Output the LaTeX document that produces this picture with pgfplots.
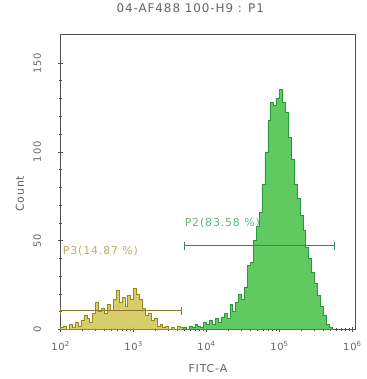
\documentclass[border=0pt]{standalone}
\usepackage{pgfplots}
\pgfplotsset{compat=1.18}
\usepackage{fontspec}
\setmainfont{DejaVu Sans}[LetterSpace=8]
\definecolor{greenfill}{RGB}{96,202,96}
\definecolor{greenline}{RGB}{40,150,60}
\definecolor{olivefill}{RGB}{208,198,80}
\definecolor{oliveline}{RGB}{150,135,30}
\definecolor{pthreebar}{RGB}{140,118,40}
\definecolor{pthreetext}{RGB}{185,175,90}
\definecolor{ptwobar}{RGB}{50,140,90}
\definecolor{ptwotext}{RGB}{90,185,130}
\definecolor{axisgray}{RGB}{80,80,80}
\definecolor{textgray}{RGB}{100,100,100}
\begin{document}
\begin{tikzpicture}
\begin{axis}[
  scale only axis, width=297pt, height=297pt,
  xmin=2, xmax=6.04, ymin=0, ymax=166,
  xtick={2,3,4,5,6},
  xticklabels={10\textsuperscript{2},10\textsuperscript{3},10\textsuperscript{4},10\textsuperscript{5},10\textsuperscript{6}},
  minor xtick={2.301,2.477,2.602,2.699,2.778,2.845,2.903,2.954,3.301,3.477,3.602,3.699,3.778,3.845,3.903,3.954,4.301,4.477,4.602,4.699,4.778,4.845,4.903,4.954,5.301,5.477,5.602,5.699,5.778,5.845,5.903,5.954},
  ytick={0,50,100,150},
  minor y tick num=4,
  tick pos=left, tick align=center,
  major tick length=5pt, minor tick length=3pt,
  axis line style={axisgray, line width=0.9pt},
  every tick/.style={axisgray, line width=0.6pt},
  tick label style={font=\fontsize{10}{11}\selectfont, text=textgray},
  yticklabel style={rotate=90, anchor=center, yshift=21pt},
  /pgf/number format/assume math mode=true,
  xticklabel style={anchor=center, yshift=-14pt},
  xlabel={FITC-A}, ylabel={Count},
  label style={font=\fontsize{11}{13}\selectfont, text=textgray},
  xlabel style={at={(axis description cs:0.5,0)}, anchor=center, yshift=-39pt},
  ylabel style={at={(axis description cs:-0.138,0.46)}, anchor=center},
  title={04-AF488 100-H9 : P1},
  title style={at={(axis description cs:0.44,1)}, anchor=center, yshift=21pt, font=\fontsize{12}{14}\selectfont, text=textgray},
  clip=false,
]
\addplot[const plot mark left, fill=olivefill, fill opacity=0.85, draw=oliveline, line width=0.5pt] coordinates {
(2.00,1) (2.04,2) (2.08,0) (2.12,3) (2.16,1) (2.20,4) (2.24,2) (2.28,5) (2.32,8) (2.36,6)
(2.40,4) (2.44,9) (2.48,15) (2.52,10) (2.56,12) (2.60,9) (2.64,14) (2.68,11) (2.72,17) (2.76,22)
(2.80,15) (2.84,18) (2.88,13) (2.92,19) (2.96,17) (3.00,23) (3.04,20) (3.08,17) (3.12,12) (3.16,8)
(3.20,9) (3.24,5) (3.28,6) (3.32,2) (3.36,3) (3.40,1) (3.44,2) (3.48,0) (3.52,1) (3.56,0)
(3.60,2) (3.64,1) (3.68,1)
} \closedcycle;
\addplot[const plot mark left, fill=greenfill, draw=greenline, line width=0.5pt] coordinates {
(3.68,1) (3.72,0) (3.76,2) (3.80,1) (3.84,3) (3.88,2) (3.92,1) (3.96,4) (4.00,3) (4.04,5)
(4.08,3) (4.12,6) (4.16,4) (4.20,7) (4.24,9) (4.28,6) (4.32,14) (4.36,10) (4.40,15) (4.44,20)
(4.48,17) (4.52,24) (4.56,36) (4.60,38) (4.64,50) (4.68,58) (4.72,66) (4.76,82) (4.80,100) (4.84,118)
(4.88,128) (4.92,126) (4.96,130) (5.00,135) (5.04,128) (5.08,122) (5.12,108) (5.16,96) (5.20,82) (5.24,74)
(5.28,64) (5.32,56) (5.36,46) (5.40,40) (5.44,32) (5.48,26) (5.52,19) (5.56,13) (5.60,8) (5.64,3)
(5.68,1) (5.72,0) (5.76,0)
} \closedcycle;
\addplot[pthreebar, line width=1pt, mark=|, mark size=4pt, mark options={line width=1pt}] coordinates {(2.0,10.5) (3.66,10.5)};
\addplot[ptwobar, line width=1pt, mark=|, mark size=4pt, mark options={line width=1pt}] coordinates {(3.70,47) (5.75,47)};
\node[anchor=west, text=pthreetext, font=\fontsize{11}{13}\selectfont, inner sep=0pt] at (axis cs:2.03,44) {P3(14.87 \%)};
\node[anchor=west, text=ptwotext, font=\fontsize{11}{13}\selectfont, inner sep=0pt] at (axis cs:3.70,60) {P2(83.58 \%)};
\end{axis}
\useasboundingbox (-61pt,-50pt) rectangle (308pt,329pt);
\end{tikzpicture}
\end{document}
